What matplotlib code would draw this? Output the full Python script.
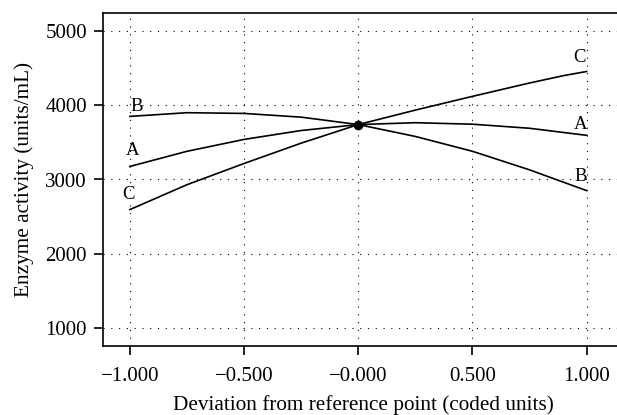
import matplotlib
matplotlib.use("Agg")
import matplotlib.pyplot as plt
import numpy as np

plt.rcParams['font.family'] = ['Liberation Serif', 'DejaVu Serif']
plt.rcParams['font.size'] = 15

# coded deviation from reference point
x = [-1.0, -0.75, -0.5, -0.25, 0.0, 0.25, 0.5, 0.75, 1.0]
a_vals = [3176, 3380, 3540, 3660, 3740, 3765, 3745, 3690, 3595]
b_vals = [3850, 3900, 3890, 3840, 3740, 3580, 3380, 3130, 2850]
x_c = [-1.0, -0.75, -0.5, -0.25, 0.0, 0.25, 0.5, 0.75, 0.9, 1.0]
c_vals = [2595, 2930, 3216, 3490, 3740, 3935, 4120, 4300, 4400, 4455]

xticks = [-1.0, -0.5, 0.0, 0.5, 1.0]
xtick_labels = ['\u22121.000', '\u22120.500', '\u22120.000', '0.500', '1.000']
yticks = [1000, 2000, 3000, 4000, 5000]

fig = plt.figure(figsize=(6.17, 4.15), dpi=100)
ax = fig.add_axes([103 / 617, 1 - 346 / 415, 1 - 103 / 617 + 0.01, (346 - 13) / 415])

ax.plot(x, a_vals, color='black', lw=1.2)
ax.plot(x, b_vals, color='black', lw=1.2)
ax.plot(x_c, c_vals, color='black', lw=1.2)
ax.plot([0.0], [3740], marker='o', ms=6, mfc='black', mec='black')

# curve labels
ax.text(-0.97, 3870, 'B', ha='center', va='bottom', fontsize=13.5)
ax.text(-0.99, 3270, 'A', ha='center', va='bottom', fontsize=13.5)
ax.text(-1.005, 2680, 'C', ha='center', va='bottom', fontsize=13.5)
ax.text(0.97, 4530, 'C', ha='center', va='bottom', fontsize=13.5)
ax.text(0.975, 3620, 'A', ha='center', va='bottom', fontsize=13.5)
ax.text(0.975, 2930, 'B', ha='center', va='bottom', fontsize=13.5)

ax.set_xlim(-1.118, 1.16)
ax.set_ylim(757, 5243)
ax.set_xticks(xticks)
ax.set_xticklabels(xtick_labels)
ax.set_yticks(yticks)
ax.grid(True, color='black', linestyle=(0, (1, 6)), linewidth=0.8)
ax.tick_params(direction='out', length=6.5, width=1.2, labelsize=15)
ax.tick_params(axis='x', pad=8.5)
ax.tick_params(axis='y', pad=5)
ax.spines['right'].set_visible(False)
for s in ['left', 'bottom', 'top']:
    ax.spines[s].set_linewidth(1.2)

ax.set_xlabel('Deviation from reference point (coded units)', fontsize=15.3, labelpad=7)
ax.set_ylabel('Enzyme activity (units/mL)', fontsize=15.3, labelpad=8)

fig.savefig('out.png', dpi=100)
